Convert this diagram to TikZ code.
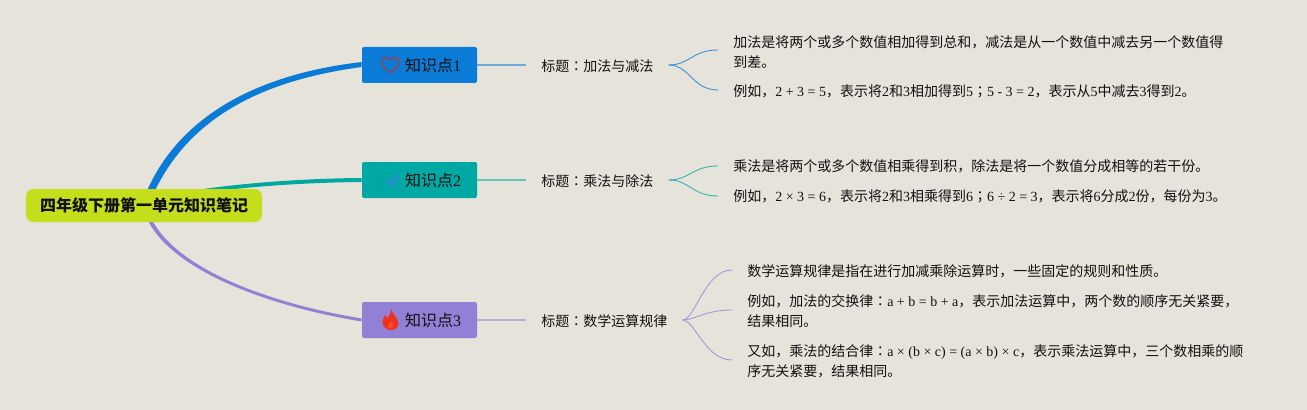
\documentclass[tikz,border=0pt]{standalone}
\usepackage{fontspec}
\setmainfont{Noto Sans CJK SC}
\newfontfamily\latinface{Liberation Serif}
\newfontfamily\tcface{Noto Sans CJK TC}
\newcommand{\ltn}[1]{{\latinface #1}}
\newcommand{\cln}{{\tcface ：}}
\newcommand{\smc}{{\tcface ；}}
\usetikzlibrary{calc,backgrounds}
\definecolor{paper}{HTML}{E6E3DB}
\definecolor{rootc}{HTML}{C5DE1B}
\definecolor{brA}{HTML}{0A7BD6}
\definecolor{brB}{HTML}{00A8A4}
\definecolor{brC}{HTML}{9180D6}
\definecolor{inkc}{HTML}{111111}
\definecolor{heartc}{HTML}{8E4560}
\definecolor{planec}{HTML}{1898C0}
\definecolor{flamec}{HTML}{F03020}
\definecolor{flamein}{HTML}{F65020}
\tikzset{
  rootbox/.style={fill=rootc,rounded corners=5.5pt,minimum width=236*0.75pt,minimum height=33*0.75pt,inner sep=0pt,text=inkc,font=\fontsize{12pt}{15pt}\selectfont\bfseries},
  topicbox/.style={fill=#1,rounded corners=1.5pt,minimum width=115*0.75pt,minimum height=36*0.75pt,inner sep=0pt,text=inkc,font=\fontsize{12pt}{15pt}\selectfont},
  titlebox/.style={anchor=west,inner xsep=15*0.75pt,inner ysep=0pt,text=inkc,font=\fontsize{10.5pt}{15pt}\selectfont},
  detailbox/.style={inner xsep=15*0.75pt,inner ysep=0pt,anchor=west,align=left,text=inkc,font=\fontsize{10.5pt}{15pt}\selectfont},
  stem/.style={draw=#1!55!paper,line width=1pt},
  twig/.style={draw=#1!80!paper,line width=0.65pt},
}
\begin{document}
\begin{tikzpicture}[x=0.75pt,y=-0.75pt]
\useasboundingbox (0,0) rectangle (1307,410);
% nodes
\node[rootbox] (root) at (144,205.5) {四年级下册第一单元知识笔记};
\node[topicbox=brA] (t1) at (419.5,65) {\hspace*{20.25pt}知识点\ltn{1}};
\node[topicbox=brB] (t2) at (419.5,180) {\hspace*{20.25pt}知识点\ltn{2}};
\node[topicbox=brC] (t3) at (419.5,320) {\hspace*{20.25pt}知识点\ltn{3}};
\node[titlebox] (h1) at (526,66) {标题\cln 加法与减法};
\node[titlebox] (h2) at (526,181) {标题\cln 乘法与除法};
\node[titlebox] (h3) at (526,321) {标题\cln 数学运算规律};
\node[detailbox] (d11) at (718,52) {加法是将两个或多个数值相加得到总和，减法是从一个数值中减去另一个数值得\\到差。};
\node[detailbox] (d12) at (718,91) {例如，\ltn{2 + 3 = 5}，表示将\ltn{2}和\ltn{3}相加得到\ltn{5}\smc\ltn{5 - 3 = 2}，表示从\ltn{5}中减去\ltn{3}得到\ltn{2}。};
\node[detailbox] (d21) at (718,166) {乘法是将两个或多个数值相乘得到积，除法是将一个数值分成相等的若干份。};
\node[detailbox] (d22) at (718,196) {例如，\ltn{2 × 3 = 6}，表示将\ltn{2}和\ltn{3}相乘得到\ltn{6}\smc\ltn{6 ÷ 2 = 3}，表示将\ltn{6}分成\ltn{2}份，每份为\ltn{3}。};
\node[detailbox] (d31) at (732,271) {数学运算规律是指在进行加减乘除运算时，一些固定的规则和性质。};
\node[detailbox] (d32) at (732,311) {例如，加法的交换律\cln\ltn{a + b = b + a}，表示加法运算中，两个数的顺序无关紧要，\\结果相同。};
\node[detailbox] (d33) at (732,361) {又如，乘法的结合律\cln\ltn{a × (b × c) = (a × b) × c}，表示乘法运算中，三个数相乘的顺\\序无关紧要，结果相同。};
% icons
\draw[draw=heartc,line width=1.2pt,line join=round,shift={(t1.center)}]
  (-29,8) .. controls (-34,3.5) and (-38.5,0.5) .. (-38,-3.5) .. controls (-37.5,-8) and (-31.5,-9) .. (-29,-4.5)
  .. controls (-26.5,-9) and (-20.5,-8) .. (-20,-3.5) .. controls (-19.5,0.5) and (-24,3.5) .. (-29,8) -- cycle;
\fill[planec,shift={(t2.center)}]
  (-19.5,-7) -- (-36.5,2) -- (-30,4.5) -- (-27,8.5) -- (-25.5,5.5) -- (-24,8) -- cycle;
\fill[flamec,shift={(t3.center)}]
  (-28,-11) .. controls (-27,-5) and (-22,-3) .. (-21,3) .. controls (-20.5,7) and (-24,10) .. (-29,10)
  .. controls (-34,10) and (-37.5,6) .. (-37,1) .. controls (-36.5,-2) and (-35,-3) .. (-34,-5)
  .. controls (-33.5,-3) and (-33,-2) .. (-32,-2) .. controls (-30,-4) and (-29,-8) .. (-28,-11) -- cycle;
\fill[flamein,shift={(t3.center)}]
  (-28.5,1) .. controls (-27,3) and (-25.5,5) .. (-26.5,7) .. controls (-27.5,9) and (-31,9) .. (-32,7) .. controls (-32.5,5) and (-30,4) .. (-28.5,1) -- cycle;
% connectors
\begin{scope}[on background layer]
\fill[paper] (0,0) rectangle (1307,410);
\fill[brC] ($(root.south)+(2.2,-5.2)$) .. controls (170.2,270.8) and (269.7,306.5) .. ($(t3.west)+(0,1.5)$)
   -- ($(t3.west)+(0,-1.5)$) .. controls (270.3,303.5) and (173.8,269.2) .. ($(root.south)+(5.8,-6.8)$) -- cycle;
\fill[brB] ($(root.north)+(6,10.5)$) .. controls (200,186) and (290,178.5) .. ($(t2.west)+(0,-2)$)
   -- ($(t2.west)+(0,2)$) .. controls (290,182.5) and (200,190) .. ($(root.north)+(6,13.5)$) -- cycle;
\fill[brA] ($(root.north)+(3,2)$) .. controls (186,103) and (279.5,71.5) .. ($(t1.west)+(0,-3)$)
   -- ($(t1.west)+(0,2)$) .. controls (280.5,78) and (194,107) .. ($(root.north)+(10,4)$) -- cycle;
\draw[stem=brA] (t1.east) -- ($(h1.west)+(0,-1)$);
\draw[stem=brB] (t2.east) -- ($(h2.west)+(0,-1)$);
\draw[stem=brC] (t3.east) -- ($(h3.west)+(0,-1)$);
\draw[twig=brA] ($(h1.east)+(0,-1)$) .. controls (690,65) and (692,50) .. ($(d11.west)+(0,-2)$);
\draw[twig=brA] ($(h1.east)+(0,-1)$) .. controls (690,65) and (692,90) .. ($(d12.west)+(0,-1)$);
\draw[twig=brB] ($(h2.east)+(0,-1)$) .. controls (690,180) and (692,166) .. (d21.west);
\draw[twig=brB] ($(h2.east)+(0,-1)$) .. controls (690,180) and (692,196) .. (d22.west);
\draw[twig=brC] ($(h3.east)+(0,-1)$) .. controls (695,320) and (705,270) .. ($(d31.west)+(0,-1)$);
\draw[twig=brC] ($(h3.east)+(0,-1)$) .. controls (695,320) and (705,310) .. ($(d32.west)+(0,-1)$);
\draw[twig=brC] ($(h3.east)+(0,-1)$) .. controls (695,320) and (705,360) .. ($(d33.west)+(0,-1)$);
\end{scope}
\end{tikzpicture}
\end{document}
